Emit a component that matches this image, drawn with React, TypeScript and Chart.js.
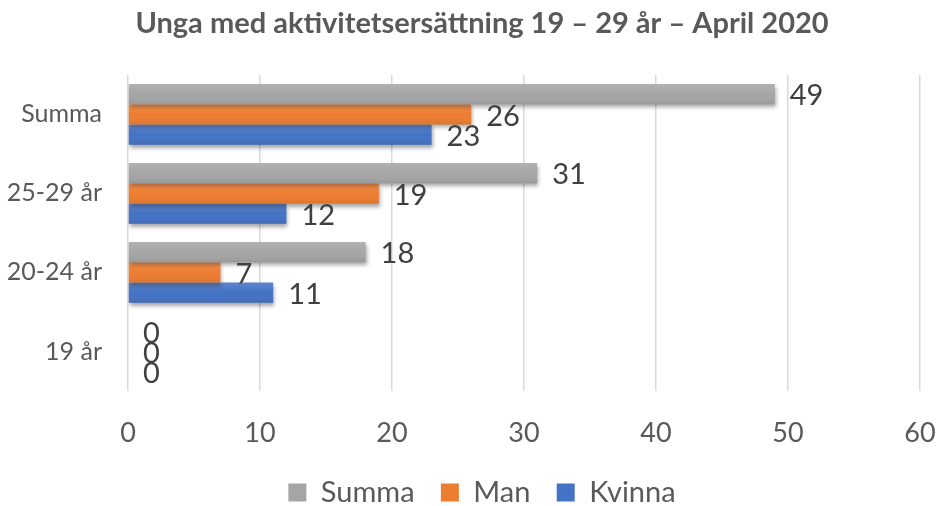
import React, { useEffect, useRef } from 'react';
import { Chart, registerables } from 'chart.js';

Chart.register(...registerables);

const titleText = 'Unga med aktivitetsersättning 19 – 29 år – April 2020';
const categories = ['Summa', '25-29 år', '20-24 år', '19 år'];
const seriesNames = ['Summa', 'Man', 'Kvinna'];
const summaValues = [49, 31, 18, 0];
const manValues = [26, 19, 7, 0];
const kvinnaValues = [23, 12, 11, 0];
const xMin = 0;
const xMax = 60;
const xStep = 10;

const colors = ['#A5A5A5', '#ED7D31', '#4472C4'];
const legendSpacers = ['   ', '   ', ''];
const FONT = 'Lato, "Open Sans", sans-serif';

const barEffects = {
  id: 'barEffects',
  beforeDatasetsDraw(chart: any) {
    const ctx = chart.ctx;
    ctx.save();
    ctx.shadowColor = 'rgba(0,0,0,0.35)';
    ctx.shadowBlur = 4;
    ctx.shadowOffsetX = 1;
    ctx.shadowOffsetY = 3;
  },
  afterDatasetsDraw(chart: any) {
    const ctx = chart.ctx;
    ctx.restore();
    ctx.save();
    chart.data.datasets.forEach((ds: any, i: number) => {
      const meta = chart.getDatasetMeta(i);
      meta.data.forEach((el: any, j: number) => {
        const { x, y, base, height } = el.getProps(['x', 'y', 'base', 'height'], true);
        const top = y - height / 2;
        if (x - base > 0.5) {
          const g = ctx.createLinearGradient(0, top, 0, top + height);
          g.addColorStop(0, 'rgba(255,255,255,0.14)');
          g.addColorStop(0.5, 'rgba(255,255,255,0)');
          g.addColorStop(1, 'rgba(0,0,0,0.08)');
          ctx.fillStyle = g;
          ctx.fillRect(base, top, x - base, height);
        }
        ctx.fillStyle = '#404040';
        ctx.font = `29px ${FONT}`;
        ctx.textAlign = 'left';
        ctx.textBaseline = 'middle';
        ctx.fillText(String(ds.data[j]), x + 15, y + 2);
      });
    });
    ctx.restore();
  },
};

export default function App() {
  const canvasRef = useRef<HTMLCanvasElement | null>(null);

  useEffect(() => {
    if (!canvasRef.current) return;
    const values = [summaValues, manValues, kvinnaValues];
    const chart = new Chart(canvasRef.current, {
      type: 'bar',
      data: {
        labels: categories,
        datasets: seriesNames.map((name, i) => ({
          label: name,
          data: values[i],
          backgroundColor: colors[i],
          borderWidth: 0,
          categoryPercentage: 0.77,
          barPercentage: 1,
        })),
      },
      options: {
        indexAxis: 'y',
        responsive: false,
        animation: false,
        layout: { padding: { left: 6, right: -18, top: 0, bottom: -11 } },
        plugins: {
          title: {
            display: true,
            text: titleText,
            color: '#595959',
            font: { family: FONT, size: 29, weight: 'bold', lineHeight: 1.2 },
            padding: { top: 6, bottom: 34 },
          },
          legend: {
            display: true,
            position: 'bottom',
            labels: {
              color: '#595959',
              font: { family: FONT, size: 29, lineHeight: 1 },
              boxWidth: 18,
              boxHeight: 18,
              padding: 4,
              generateLabels: (ch: any) => {
                const items = Chart.defaults.plugins.legend.labels.generateLabels(ch);
                return items.map((it: any, idx: number) => ({
                  ...it,
                  text: it.text + (legendSpacers[idx] || ''),
                  lineWidth: 0,
                }));
              },
            },
          },
          tooltip: { enabled: false },
        },
        scales: {
          x: {
            min: xMin,
            max: xMax,
            ticks: {
              stepSize: xStep,
              color: '#595959',
              font: { family: FONT, size: 27 },
              padding: 26,
            },
            grid: { color: '#D9D9D9', lineWidth: 1.5, drawTicks: false },
            border: { display: false },
            afterFit: (s: any) => {
              s.height = 83;
              s.paddingLeft = 0;
              s.paddingRight = 20;
            },
          },
          y: {
            ticks: {
              color: '#595959',
              font: { family: FONT, size: 25 },
              padding: 26,
            },
            grid: { display: false, drawTicks: false },
            border: { display: false },
            afterFit: (s: any) => {
              s.width = 122;
            },
          },
        },
      },
      plugins: [barEffects],
    } as any);
    return () => chart.destroy();
  }, []);

  return (
    <div style={{ position: 'absolute', left: 0, top: 0, width: 940, height: 506, background: '#fff' }}>
      <canvas ref={canvasRef} width={940} height={506} style={{ display: 'block' }} />
    </div>
  );
}
